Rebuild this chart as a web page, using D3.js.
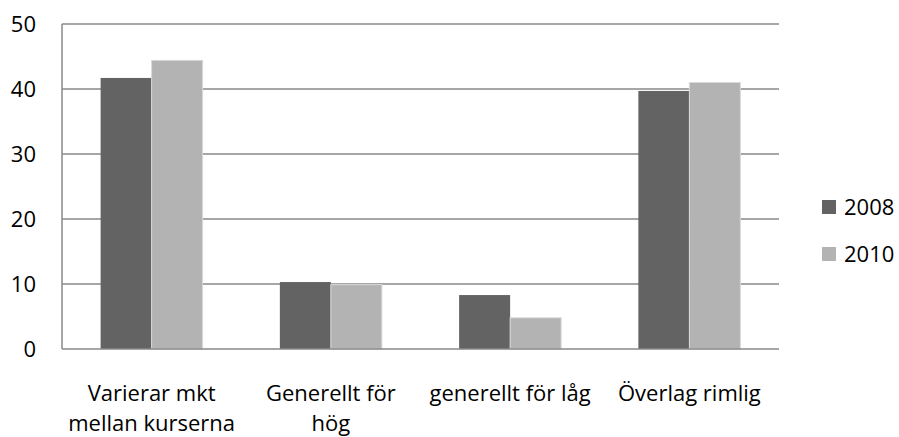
<!DOCTYPE html>
<html><head><meta charset="utf-8">
<script src="https://cdn.jsdelivr.net/npm/d3@7"></script>
<style>body{margin:0;background:#fff}svg{display:block}text{font-family:"Open Sans",Lato,sans-serif;fill:#000}</style>
</head><body>
<svg id="c" width="899" height="437"></svg>
<script>
const categories = ["Varierar mkt\nmellan kurserna", "Generellt för\nhög", "generellt för låg", "Överlag rimlig"];
const seriesNames = ["2008", "2010"];
const values2008 = [41.7, 10.3, 8.3, 39.7];
const values2010 = [44.4, 9.9, 4.8, 41.0];
const yTicks = [0, 10, 20, 30, 40, 50];

const svg = d3.select("#c");
const m = {left: 62, right: 779, top: 24, bottom: 349};
const x = d3.scaleBand().domain(categories).range([m.left, m.right]).paddingInner(0).paddingOuter(0);
const inner = d3.scaleBand().domain(seriesNames).range([0, x.bandwidth()]).paddingOuter(0.757).paddingInner(0);
const y = d3.scaleLinear().domain([0, 50]).range([m.bottom, m.top]);
const colors = {"2008": "#636363", "2010": "#b3b3b3"};
const data = categories.map((c, i) => ({c, vals: [{s: "2008", v: values2008[i]}, {s: "2010", v: values2010[i]}]}));

// gridlines
svg.append("g").selectAll("line").data(yTicks.filter(t => t > 0)).join("line")
  .attr("x1", m.left).attr("x2", m.right)
  .attr("y1", d => y(d)).attr("y2", d => y(d))
  .attr("stroke", "#888").attr("stroke-width", 1.5);

// bars
const g = svg.append("g").selectAll("g").data(data).join("g")
  .attr("transform", d => `translate(${x(d.c)},0)`);
g.selectAll("rect").data(d => d.vals).join("rect")
  .attr("x", d => inner(d.s)).attr("width", inner.bandwidth())
  .attr("y", d => y(d.v)).attr("height", d => y(0) - y(d.v))
  .attr("fill", d => colors[d.s])
  .attr("stroke", d => d.s === "2010" ? "#d9d9d9" : "none").attr("stroke-width", 1);

// axes lines
svg.append("line").attr("x1", m.left).attr("x2", m.left).attr("y1", m.top).attr("y2", m.bottom)
  .attr("stroke", "#888").attr("stroke-width", 1.5);
svg.append("line").attr("x1", m.left).attr("x2", m.right).attr("y1", m.bottom).attr("y2", m.bottom)
  .attr("stroke", "#888").attr("stroke-width", 1.5);

// y labels
svg.append("g").selectAll("text").data(yTicks).join("text")
  .attr("x", 36).attr("y", d => y(d)).attr("dy", "0.36em")
  .attr("text-anchor", "end").style("font-size", "22px").text(d => d);

// x labels
const xl = svg.append("g").selectAll("text").data(categories).join("text")
  .attr("text-anchor", "middle").style("font-size", "22px")
  .attr("transform", d => `translate(${x(d) + x.bandwidth() / 2},401)`);
xl.selectAll("tspan").data(d => d.split("\n")).join("tspan")
  .attr("x", 0).attr("y", (d, i) => i * 30).text(d => d);

// legend
const lg = svg.append("g").selectAll("g").data(seriesNames).join("g")
  .attr("transform", (d, i) => `translate(822,${200 + i * 47})`);
lg.append("rect").attr("width", 14).attr("height", 14).attr("fill", d => colors[d]);
lg.append("text").attr("x", 22).attr("y", 7).attr("dy", "0.36em").style("font-size", "22px").text(d => d);
</script>
</body></html>
